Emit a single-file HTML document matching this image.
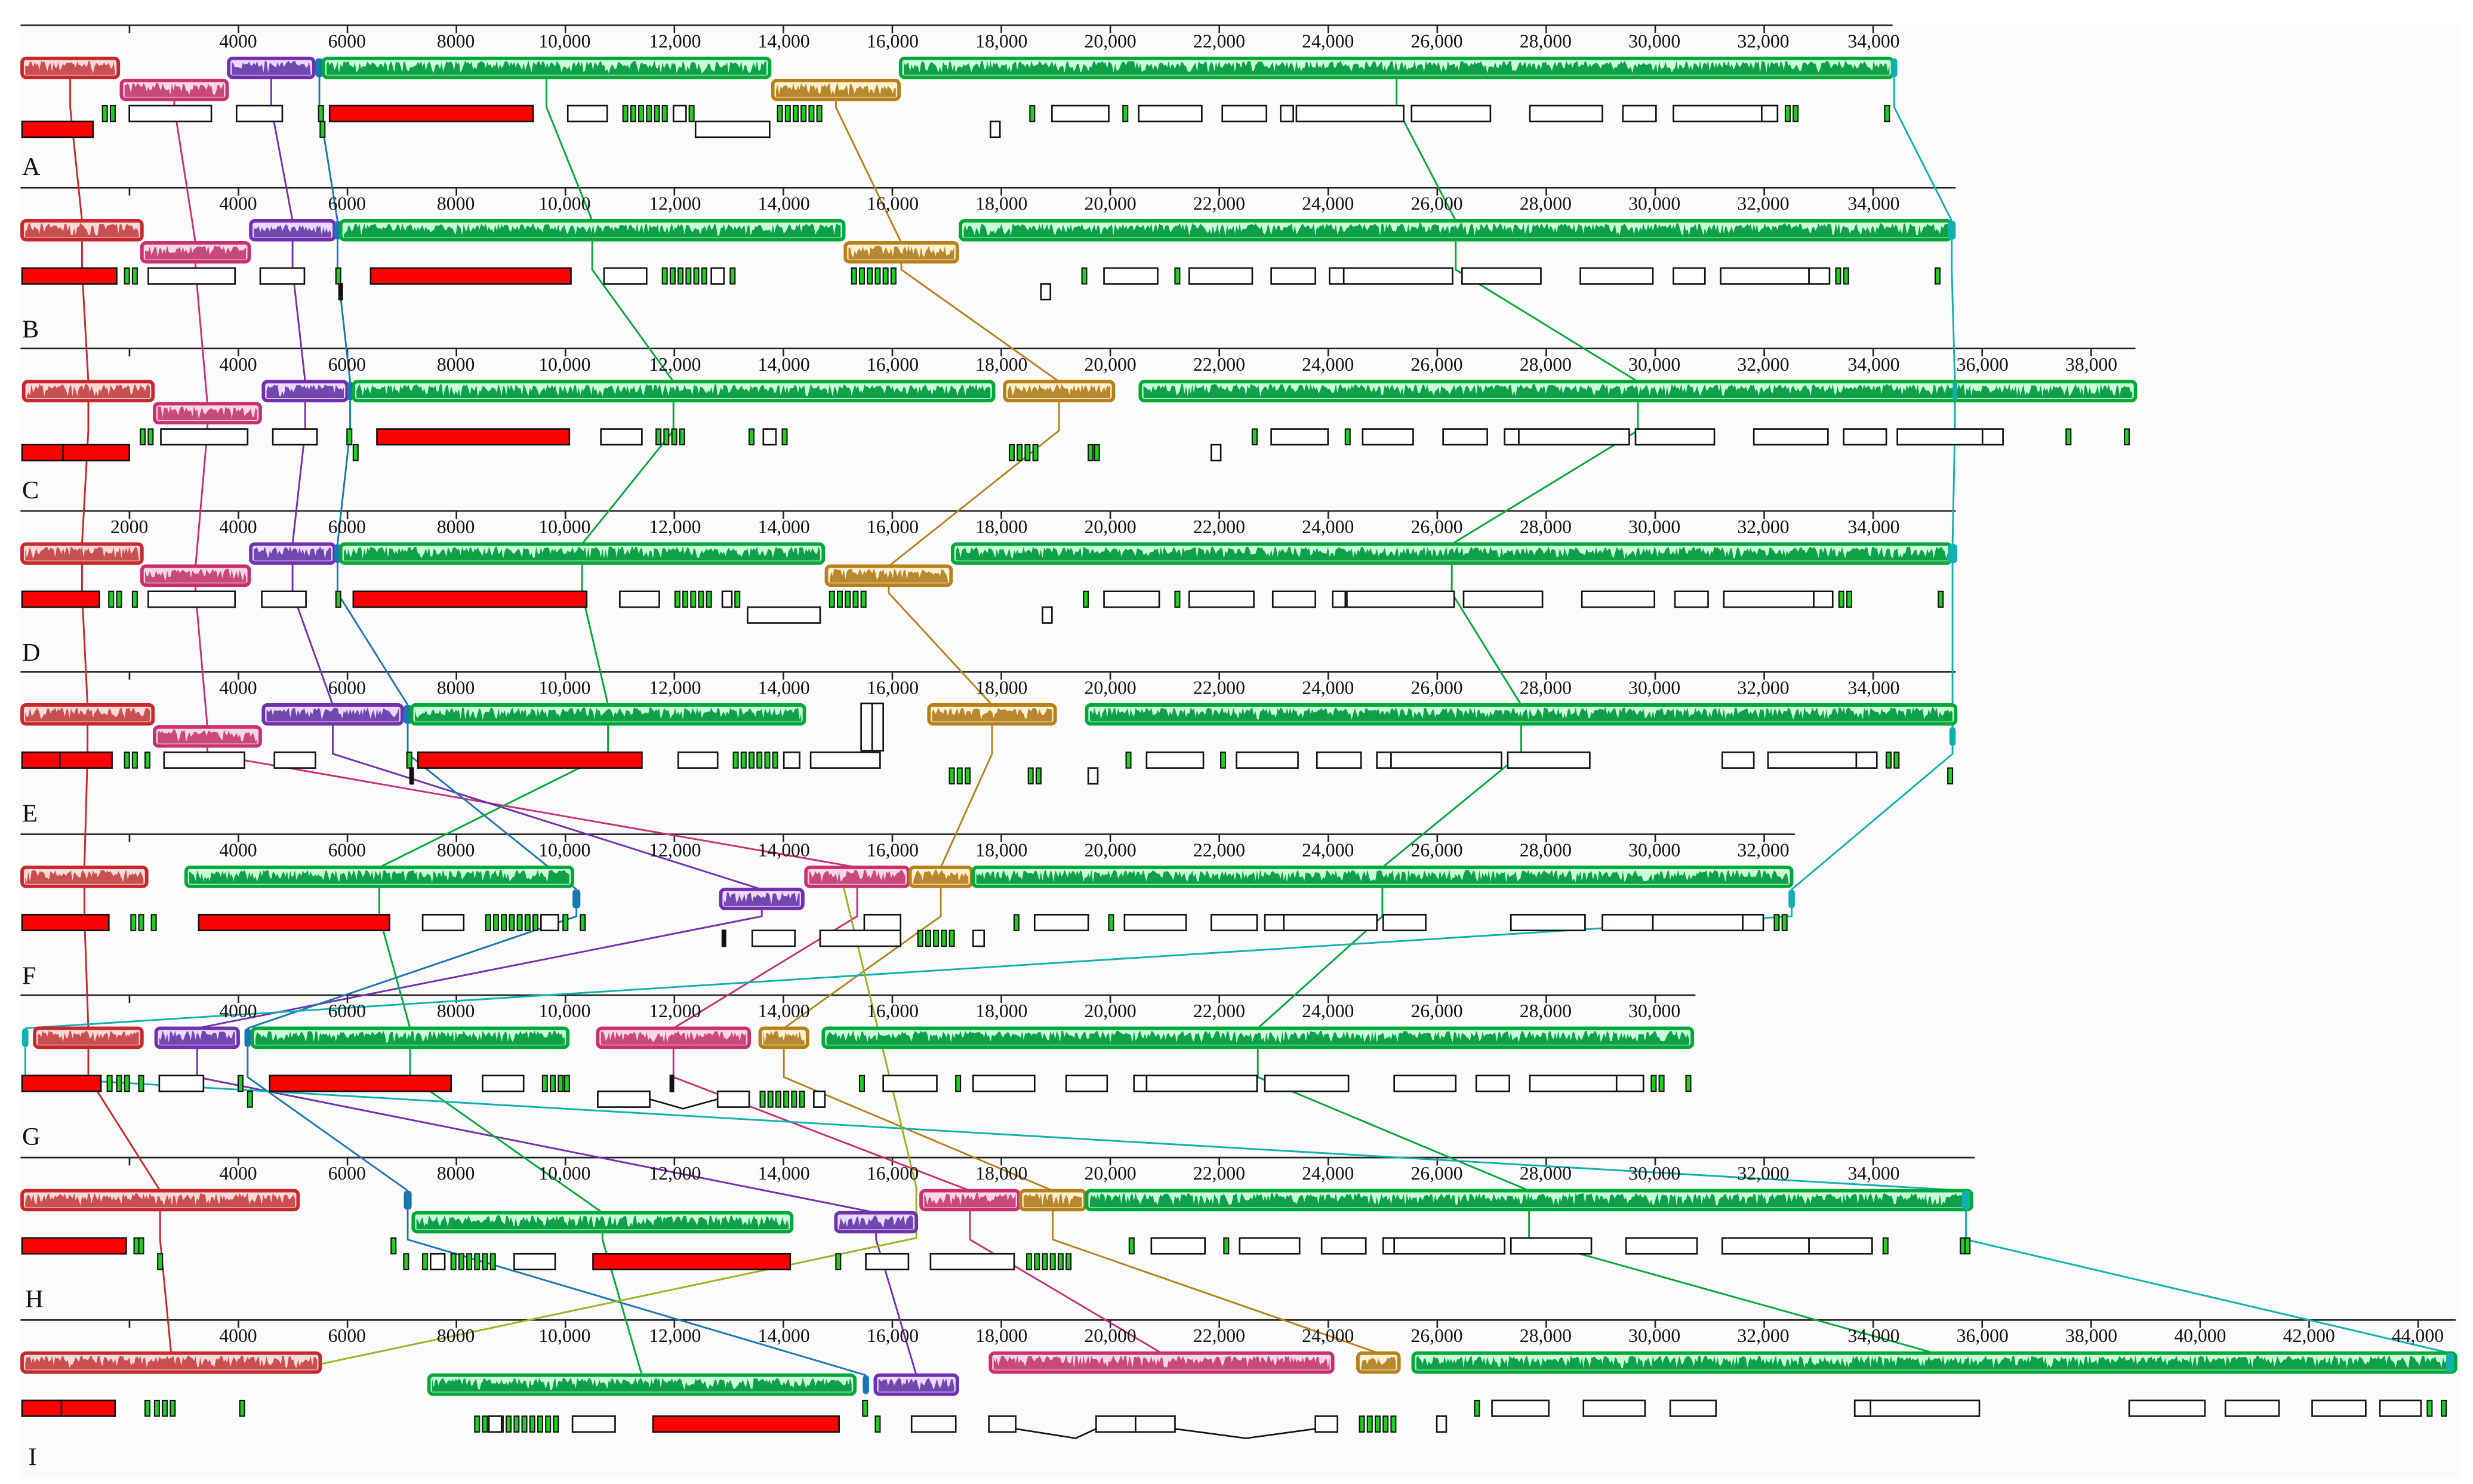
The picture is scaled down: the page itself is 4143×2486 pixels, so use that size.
<!DOCTYPE html>
<html><head><meta charset="utf-8"><style>
html,body{margin:0;padding:0;background:#fff}
svg{display:block}
text{font-family:"Liberation Serif",serif;font-size:12px;fill:#111}
.t text{text-anchor:middle}
.lab{font-size:16px}
</style></head><body>
<svg id="s" xmlns="http://www.w3.org/2000/svg" width="4143" height="2486" viewBox="0 0 1568 941" preserveAspectRatio="none">
<rect width="1568" height="941" fill="#fff"/>
<g id="bg"></g>
<g id="draw"></g>
<g class="t" transform="translate(0,16)"><text x="151" y="14">4000</text><text x="220" y="14">6000</text><text x="289" y="14">8000</text><text x="358" y="14">10,000</text><text x="428" y="14">12,000</text><text x="497" y="14">14,000</text><text x="566" y="14">16,000</text><text x="635" y="14">18,000</text><text x="704" y="14">20,000</text><text x="773" y="14">22,000</text><text x="842" y="14">24,000</text><text x="911" y="14">26,000</text><text x="980" y="14">28,000</text><text x="1049" y="14">30,000</text><text x="1118" y="14">32,000</text><text x="1188" y="14">34,000</text></g>
<g class="t" transform="translate(0,119)"><text x="151" y="14">4000</text><text x="220" y="14">6000</text><text x="289" y="14">8000</text><text x="358" y="14">10,000</text><text x="428" y="14">12,000</text><text x="497" y="14">14,000</text><text x="566" y="14">16,000</text><text x="635" y="14">18,000</text><text x="704" y="14">20,000</text><text x="773" y="14">22,000</text><text x="842" y="14">24,000</text><text x="911" y="14">26,000</text><text x="980" y="14">28,000</text><text x="1049" y="14">30,000</text><text x="1118" y="14">32,000</text><text x="1188" y="14">34,000</text></g>
<g class="t" transform="translate(0,221)"><text x="151" y="14">4000</text><text x="220" y="14">6000</text><text x="289" y="14">8000</text><text x="358" y="14">10,000</text><text x="428" y="14">12,000</text><text x="497" y="14">14,000</text><text x="566" y="14">16,000</text><text x="635" y="14">18,000</text><text x="704" y="14">20,000</text><text x="773" y="14">22,000</text><text x="842" y="14">24,000</text><text x="911" y="14">26,000</text><text x="980" y="14">28,000</text><text x="1049" y="14">30,000</text><text x="1118" y="14">32,000</text><text x="1188" y="14">34,000</text><text x="1257" y="14">36,000</text><text x="1326" y="14">38,000</text></g>
<g class="t" transform="translate(0,324)"><text x="82" y="14">2000</text><text x="151" y="14">4000</text><text x="220" y="14">6000</text><text x="289" y="14">8000</text><text x="358" y="14">10,000</text><text x="428" y="14">12,000</text><text x="497" y="14">14,000</text><text x="566" y="14">16,000</text><text x="635" y="14">18,000</text><text x="704" y="14">20,000</text><text x="773" y="14">22,000</text><text x="842" y="14">24,000</text><text x="911" y="14">26,000</text><text x="980" y="14">28,000</text><text x="1049" y="14">30,000</text><text x="1118" y="14">32,000</text><text x="1188" y="14">34,000</text></g>
<g class="t" transform="translate(0,426)"><text x="151" y="14">4000</text><text x="220" y="14">6000</text><text x="289" y="14">8000</text><text x="358" y="14">10,000</text><text x="428" y="14">12,000</text><text x="497" y="14">14,000</text><text x="566" y="14">16,000</text><text x="635" y="14">18,000</text><text x="704" y="14">20,000</text><text x="773" y="14">22,000</text><text x="842" y="14">24,000</text><text x="911" y="14">26,000</text><text x="980" y="14">28,000</text><text x="1049" y="14">30,000</text><text x="1118" y="14">32,000</text><text x="1188" y="14">34,000</text></g>
<g class="t" transform="translate(0,529)"><text x="151" y="14">4000</text><text x="220" y="14">6000</text><text x="289" y="14">8000</text><text x="358" y="14">10,000</text><text x="428" y="14">12,000</text><text x="497" y="14">14,000</text><text x="566" y="14">16,000</text><text x="635" y="14">18,000</text><text x="704" y="14">20,000</text><text x="773" y="14">22,000</text><text x="842" y="14">24,000</text><text x="911" y="14">26,000</text><text x="980" y="14">28,000</text><text x="1049" y="14">30,000</text><text x="1118" y="14">32,000</text></g>
<g class="t" transform="translate(0,631)"><text x="151" y="14">4000</text><text x="220" y="14">6000</text><text x="289" y="14">8000</text><text x="358" y="14">10,000</text><text x="428" y="14">12,000</text><text x="497" y="14">14,000</text><text x="566" y="14">16,000</text><text x="635" y="14">18,000</text><text x="704" y="14">20,000</text><text x="773" y="14">22,000</text><text x="842" y="14">24,000</text><text x="911" y="14">26,000</text><text x="980" y="14">28,000</text><text x="1049" y="14">30,000</text></g>
<g class="t" transform="translate(0,734)"><text x="151" y="14">4000</text><text x="220" y="14">6000</text><text x="289" y="14">8000</text><text x="358" y="14">10,000</text><text x="428" y="14">12,000</text><text x="497" y="14">14,000</text><text x="566" y="14">16,000</text><text x="635" y="14">18,000</text><text x="704" y="14">20,000</text><text x="773" y="14">22,000</text><text x="842" y="14">24,000</text><text x="911" y="14">26,000</text><text x="980" y="14">28,000</text><text x="1049" y="14">30,000</text><text x="1118" y="14">32,000</text><text x="1188" y="14">34,000</text></g>
<g class="t" transform="translate(0,837)"><text x="151" y="14">4000</text><text x="220" y="14">6000</text><text x="289" y="14">8000</text><text x="358" y="14">10,000</text><text x="428" y="14">12,000</text><text x="497" y="14">14,000</text><text x="566" y="14">16,000</text><text x="635" y="14">18,000</text><text x="704" y="14">20,000</text><text x="773" y="14">22,000</text><text x="842" y="14">24,000</text><text x="911" y="14">26,000</text><text x="980" y="14">28,000</text><text x="1049" y="14">30,000</text><text x="1118" y="14">32,000</text><text x="1188" y="14">34,000</text><text x="1257" y="14">36,000</text><text x="1326" y="14">38,000</text><text x="1395" y="14">40,000</text><text x="1464" y="14">42,000</text><text x="1533" y="14">44,000</text></g>
<g class="lab">
<text class="lab" x="14" y="111">A</text><text class="lab" x="14" y="214">B</text><text class="lab" x="14" y="316">C</text><text class="lab" x="14" y="419">D</text><text class="lab" x="14" y="521">E</text><text class="lab" x="14" y="624">F</text><text class="lab" x="14" y="726">G</text><text class="lab" x="16" y="829">H</text><text class="lab" x="18" y="929">I</text>
</g>
</svg>
<script>
(function(){
var NS="http://www.w3.org/2000/svg";
var bg=document.getElementById("bg"),dr=document.getElementById("draw");
function el(p,tag,at){var e=document.createElementNS(NS,tag);for(var k in at)e.setAttribute(k,at[k]);p.appendChild(e);return e;}
var A=[16,119,221,324,426,529,631,734,837];
var END=[1200,1240,1354,1240,1240,1138,1075,1252,1557];
function X(bp){return 13+bp*0.03455;}
for(var i=0;i<9;i++){
 var a=A[i];
 el(bg,"rect",{x:13,y:a,width:1547,height:(i<8?A[i+1]-a:100),fill:"#fbfbfb"});
 el(bg,"line",{x1:13,y1:a,x2:END[i],y2:a,stroke:"#222","stroke-width":1});
 for(var bp=2000;X(bp)<=END[i]+1;bp+=2000){var x=X(bp);el(bg,"line",{x1:x,y1:a,x2:x,y2:a+5,stroke:"#222","stroke-width":1});}
}
var seed=7;function rnd(){seed=(seed*16807)%2147483647;return seed/2147483647;}
var L=[
 {c:"#c8282c",f:"#ffd8d8",p:"#c85050",b:[[14,75,0],[14,90,0],[15,97,0],[14,90,0],[14,97,0],[14,93,0],[22,90,0],[14,189,0],[14,203,0]]},
 {c:"#c83070",f:"#ffd6e6",p:"#c84a7a",b:[[77,144,1],[90,158,1],[98,165,1],[90,158,1],[98,165,1],[511,576,0],[379,475,0],[584,646,0],[628,845,0]]},
 {c:"#7030b0",f:"#ead8ff",p:"#7048b0",b:[[145,199,0],[159,212,0],[167,220,0],[159,212,0],[167,255,0],[457,509,1],[99,151,0],[530,581,1],[555,607,1]]},
 {c:"#1a78b0",f:"#1a78b0",p:null,b:[[200,205,0],[212,216,0],[220,224,0],[212,216,0],[256,261,0],[363,368,1],[155,159,0],[256,261,0],[547,551,1]]},
 {c:"#00a838",f:"#c8ffd8",p:"#10a048",b:[[205,488,0],[216,535,0],[224,630,0],[216,522,0],[261,510,0],[118,363,0],[160,360,0],[262,502,1],[272,542,1]]},
 {c:"#b8801a",f:"#fff0d0",p:"#b88830",b:[[490,570,1],[536,607,1],[637,706,0],[524,603,1],[589,669,0],[577,616,0],[482,512,0],[647,688,0],[861,887,0]]},
 {c:"#00a838",f:"#c8ffd8",p:"#10a048",b:[[571,1200,0],[609,1237,0],[723,1354,0],[604,1237,0],[689,1240,0],[617,1136,0],[522,1073,0],[689,1250,0],[896,1557,0]]},
 {c:"#10b0b0",f:"#10b0b0",p:null,b:[[1199,1203,0],[1235,1240,0],[1238,1241,0],[1235,1241,0],[1236,1240,1],[1134,1138,1],[14,18,0],[1244,1249,0],[1551,1556,0]]}
];
function rowY(i,r){return A[i]+21+r*14;}
var cg=el(dr,"g",{fill:"none","stroke-width":1.1});
L.forEach(function(l){
 var d="";
 for(var i=0;i<9;i++){
  var b=l.b[i],cx=(b[0]+b[1])/2,yt=rowY(i,b[2]),yb=yt+12;
  if(i==0)d+="M"+cx+","+yb;else d+=" L"+cx+","+yt+" M"+cx+","+yb;
  if(i<8)d+=" V"+(A[i]+52);
 }
 el(cg,"path",{d:d,stroke:l.c});
});
el(cg,"path",{d:"M535,563 L581,753 L581,785 L203,865",stroke:"#a0b020"});
var bgp=el(dr,"g",{});
L.forEach(function(l){
 for(var i=0;i<9;i++){
  var b=l.b[i],y=rowY(i,b[2]),w=b[1]-b[0];
  if(l.p){
   el(bgp,"rect",{x:b[0],y:y,width:w,height:12,rx:2,fill:l.f});
   var d="M"+(b[0]+2)+","+(y+10.5);
   for(var x=b[0]+2;x<=b[1]-2;x+=1){var h=6+rnd()*3;var r=rnd();if(r<0.2)h=1+rnd()*4;else if(r<0.4)h=4+rnd()*2;d+=" L"+x+","+(y+10.5-h).toFixed(1);}
   d+=" L"+(b[1]-2)+","+(y+10.5)+"Z";
   el(bgp,"path",{d:d,fill:l.p});
   el(bgp,"rect",{x:b[0],y:y,width:w,height:12,rx:2.5,fill:"none",stroke:l.c,"stroke-width":2.2});
  } else {
   el(bgp,"rect",{x:b[0],y:y,width:Math.max(w,3),height:12,rx:2,fill:l.c});
  }
 }
});
var G=[
"r14-59' g65 g70 w82-134 w150-179 g202 g203' r209-338 w360-385 G395-420 w427-435 g437 w441-488' G493-518 w628-634' g653 w667-703 g712 w722-762 w775-803 w812-820 w822-890 w895-945 w970-1016 w1029-1050 w1061-1127 w1117-1127 g1132 g1137 g1195",
"r14-74 g79 g84 w94-149 w165-193 g213 k215' r235-362 w383-410 G420-445 w451-459 g463 G540-565 w660-666' g686 w700-734 g745 w754-794 w806-834 w843-852 w852-921 w927-977 w1002-1048 w1061-1081 w1091-1147 w1147-1160 g1164 g1169 g1227",
"r14-40' r40-82' g89 g94 w102-157 w173-201 g220 g224' r239-361 w381-407 G416-432 g475 w484-492 g496 G640-655' g690' g694' w768-774' g794 w806-842 g853 w864-896 w915-943 w954-963 w963-1033 w1037-1087 w1112-1159 w1169-1196 w1203-1257 w1257-1270 g1310 g1347",
"r14-63 g69 g74 g84 w94-149 w166-194 g213 r224-372 w393-418 G428-452 w458-464 g466 w474-520' G526-550 w661-667' g687 w700-735 g745 w754-795 w807-834 w845-853 w854-922 w928-978 w1003-1049 w1062-1083 w1093-1150 w1150-1162 g1166 g1171 g1229",
"r14-38 r38-71 g79 g84 g92 w104-155 w174-200 g258 k260' r265-407 w430-455 G465-490 w497-507 w514-558 G602-614' g652' g657' w690-696' g714 w727-763 g774 w784-823 w835-863 w873-882 w882-952 w956-1008 w1092-1112 w1121-1177 w1177-1190 g1196 g1201 g1235'",
"r14-69 g83 g88 g96 r126-247 w268-294 G308-338 w343-354 g357 g368 k458' w477-504' w520-571' w548-571 G582-606' w617-624' g643 w656-690 g703 w713-752 w768-797 w802-814 w814-873 w877-904 w958-1005 w1016-1048 w1048-1105 w1105-1118 g1125 g1130",
"r14-64 g68 g74 g79 g88 w101-129 g151 g157' r171-286 w306-332 g344 g349 g354 g358 w379-412' k425 w455-475' G482-508' w516-523' g545 w560-594 g606 w617-656 w676-702 w719-727 w727-797 w802-855 w884-923 w936-957 w970-1025 w1025-1042 g1047 g1052 g1069",
"r14-80 g85 g88 g100' g248 g256' g268' w273-282' G286-311' w326-352' r376-501' g530' w549-576' w590-643' G651-676' g716 w730-764 g776 w786-824 w838-866 w877-884 w884-954 w958-1009 w1031-1076 w1092-1147 w1147-1187 g1194 g1243 g1246",
"r14-39 r39-73 g92 g98 g103 g108 g152 G301-351' w310-318' w363-390' r414-532' g547 g555' w578-606' w627-644' w695-720' w720-745' w834-848' G862-886' w911-917' g935 w946-982 w1004-1043 w1059-1088 w1176-1255 w1176-1186 w1350-1398 w1411-1445 w1466-1500 w1509-1535 g1539 g1548"
];
var gg=el(dr,"g",{});
function gene(t,x1,x2,y){
 var at={x:x1,y:y,width:x2-x1,height:10,stroke:"#111","stroke-width":1};
 if(t=="r")at.fill="#ff0000";else if(t=="w")at.fill="#fff";else if(t=="g"){at.fill="#20d020";at.width=3;at["stroke-width"]=0.8;}else{at.fill="#111";at.width=2;}
 el(gg,"rect",at);
}
G.forEach(function(s,i){
 s.split(" ").forEach(function(tok){
  var m=tok.match(/^([wrgkG])(\d+)(?:-(\d+))?('?)$/);if(!m)return;
  var y=A[i]+51+(m[4]?10:0),x1=+m[2],x2=m[3]?+m[3]:x1+3;
  if(m[1]=="G"){for(var x=x1;x<=x2;x+=5)gene("g",x,x+3,y);}
  else gene(m[1],x1,x2,y);
 });
});
el(gg,"rect",{x:546,y:446,width:7,height:30,fill:"#fff",stroke:"#111","stroke-width":1});
el(gg,"rect",{x:553,y:446,width:7,height:30,fill:"#fff",stroke:"#111","stroke-width":1});
el(gg,"path",{d:"M412,697 L433,703 L455,697 M644,906 L682,912 L695,906 M745,906 L790,912 L834,906",fill:"none",stroke:"#111","stroke-width":1});
})();
</script>
</body></html>
